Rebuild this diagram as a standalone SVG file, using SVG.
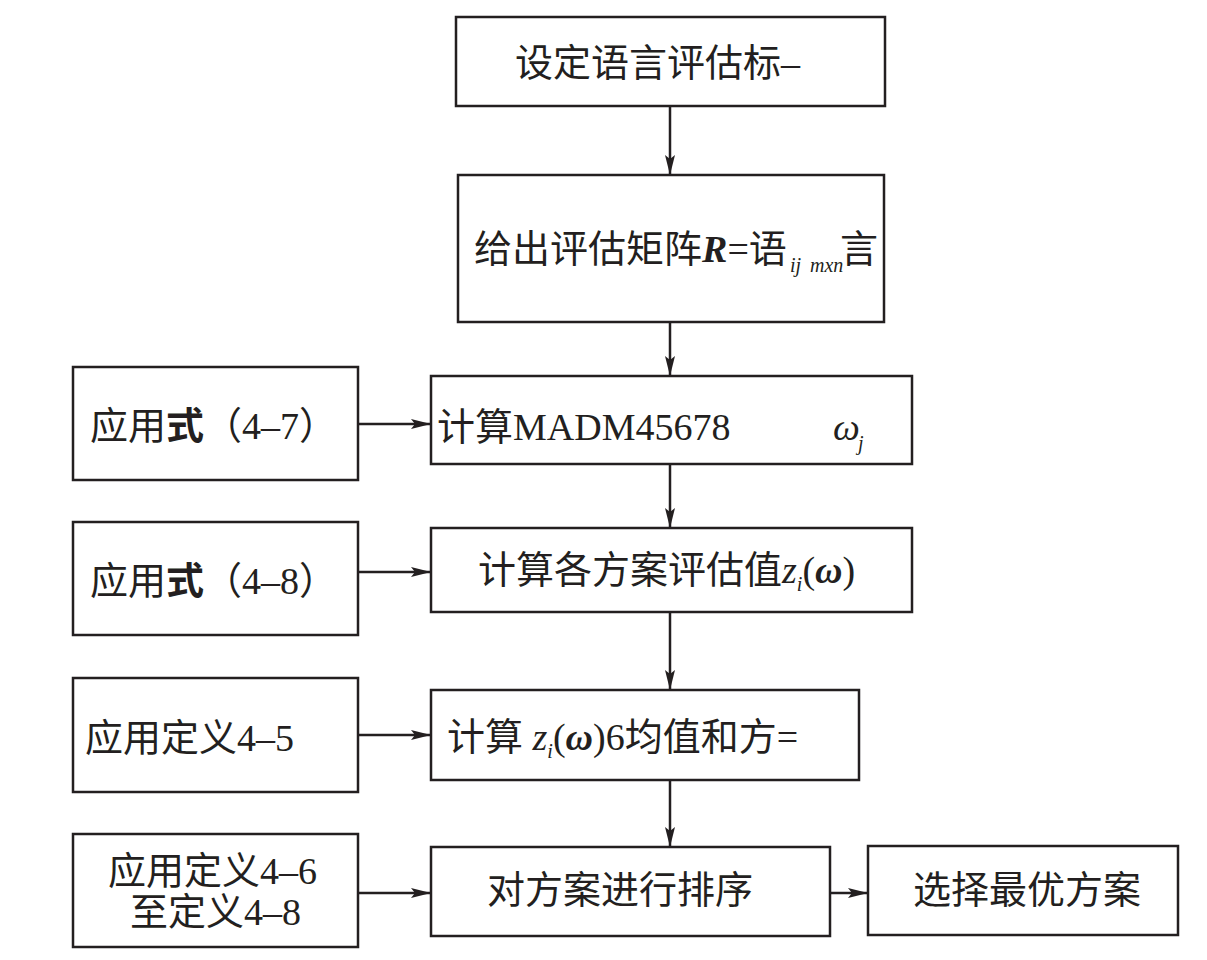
<svg xmlns="http://www.w3.org/2000/svg" width="1207" height="960" viewBox="0 0 1207 960">
<defs>
<marker id="ah" viewBox="0 0 20 10" refX="20" refY="5" markerWidth="20" markerHeight="10" markerUnits="userSpaceOnUse" orient="auto">
<path d="M0,0 L20,5 L0,10 L4,5 Z" fill="#231f20"/>
</marker>
<style>
.box{fill:#fff;stroke:#231f20;stroke-width:2.5}
.t{font-family:"Liberation Serif","Noto Sans CJK SC",serif;font-size:38px;fill:#231f20}
.it{font-style:italic}
.sub{font-size:20px;font-style:italic}
.c{stroke:#231f20;stroke-width:2.5;fill:none;marker-end:url(#ah)}
</style>
</defs>
<rect width="1207" height="960" fill="#fff"/>
<g id="connectors">
<line class="c" x1="670" y1="106" x2="670" y2="175"/>
<line class="c" x1="670" y1="322" x2="670" y2="376"/>
<line class="c" x1="670" y1="464" x2="670" y2="528"/>
<line class="c" x1="670" y1="612" x2="670" y2="690"/>
<line class="c" x1="670" y1="780" x2="670" y2="847"/>
<line class="c" x1="358" y1="424" x2="431" y2="424"/>
<line class="c" x1="358" y1="572" x2="431" y2="572"/>
<line class="c" x1="358" y1="735" x2="431" y2="735"/>
<line class="c" x1="358" y1="893" x2="431" y2="893"/>
<line class="c" x1="830" y1="893" x2="868" y2="893"/>
</g>
<g id="n1">
<rect class="box" x="456" y="17" width="429" height="89"/>
<text class="t" x="515" y="76">设定语言评估标–</text>
</g>
<g id="n2">
<rect class="box" x="458" y="175" width="426" height="147"/>
<text class="t" x="474" y="262">给出评估矩阵<tspan font-weight="bold" font-style="italic">R</tspan>=语</text>
<text class="t sub" x="790" y="272" font-size="17">ij</text>
<text class="t sub" x="810" y="272" font-size="17">mxn</text>
<text class="t" x="840" y="262">言</text>
</g>
<g id="n3">
<rect class="box" x="431" y="376" width="481" height="88"/>
<text class="t" x="437" y="440">计算MADM45678</text>
<text class="t it" x="833" y="440">ω</text>
<text class="t sub" x="858" y="450">j</text>
</g>
<g id="n4">
<rect class="box" x="431" y="528" width="481" height="84"/>
<text class="t" x="478" y="583">计算各方案评估值<tspan font-style="italic">z</tspan><tspan class="sub" dy="8">i</tspan><tspan dy="-8">(</tspan><tspan font-style="italic" font-weight="bold">ω</tspan>)</text>
</g>
<g id="n5">
<rect class="box" x="431" y="690" width="428" height="90"/>
<text class="t" x="447" y="750">计算 <tspan font-style="italic">z</tspan><tspan class="sub" dy="8">i</tspan><tspan dy="-8">(</tspan><tspan font-style="italic" font-weight="bold">ω</tspan>)6均值和方=</text>
</g>
<g id="n6">
<rect class="box" x="431" y="847" width="399" height="89"/>
<text class="t" x="487" y="903">对方案进行排序</text>
</g>
<g id="n7">
<rect class="box" x="868" y="846" width="310" height="89"/>
<text class="t" x="913" y="903">选择最优方案</text>
</g>
<g id="l1">
<rect class="box" x="73" y="367" width="285" height="113"/>
<text class="t" x="90" y="439">应用<tspan font-weight="bold">式</tspan>（4–7）</text>
</g>
<g id="l2">
<rect class="box" x="73" y="522" width="285" height="113"/>
<text class="t" x="90" y="594">应用<tspan font-weight="bold">式</tspan>（4–8）</text>
</g>
<g id="l3">
<rect class="box" x="73" y="678" width="285" height="114"/>
<text class="t" x="85" y="751">应用定义4–5</text>
</g>
<g id="l4">
<rect class="box" x="73" y="834" width="285" height="113"/>
<text class="t" x="108" y="884">应用定义4–6</text>
<text class="t" x="130" y="925">至定义4–8</text>
</g>
</svg>
